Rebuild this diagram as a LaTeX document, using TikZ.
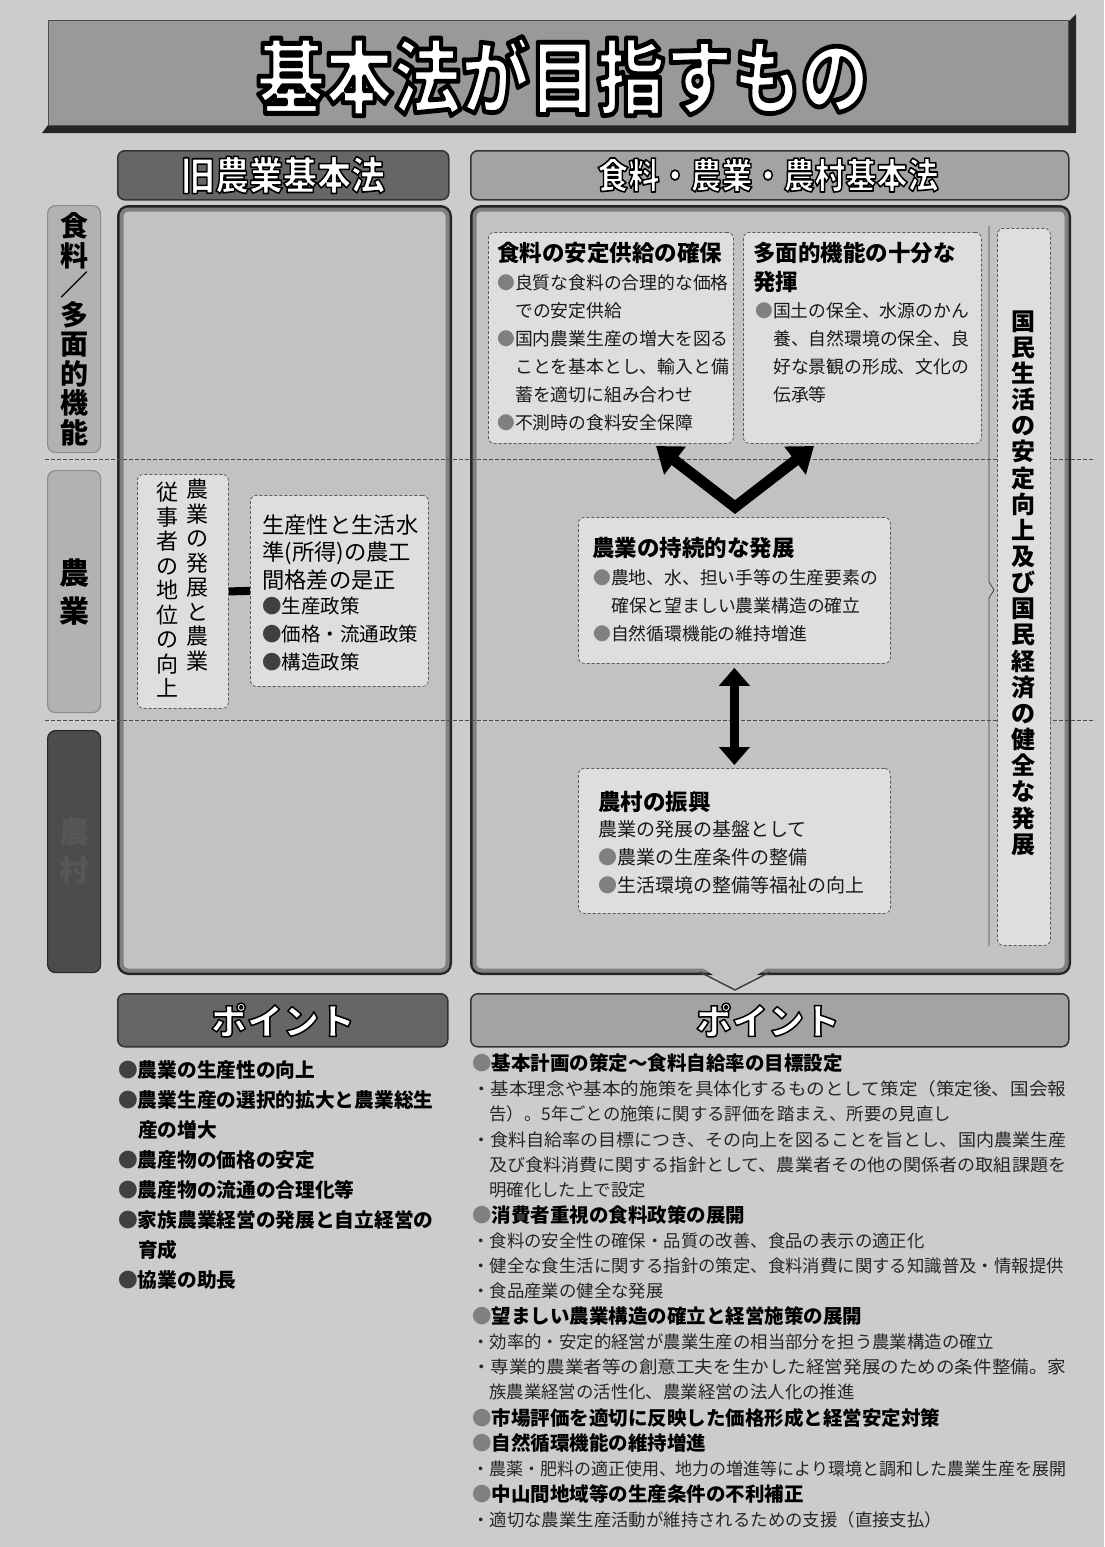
\documentclass[tikz,border=0pt]{standalone}
\usepackage{fontspec}
\setmainfont{Noto Sans CJK JP}
\usepackage{graphicx}
\usetikzlibrary{arrows.meta,calc}
\definecolor{bgc}{gray}{0.80}
\definecolor{panel}{gray}{0.76}
\definecolor{inboxc}{gray}{0.87}
\definecolor{tabdark}{gray}{0.40}
\definecolor{tablight}{gray}{0.64}
\definecolor{bannerc}{gray}{0.60}
\definecolor{labl}{gray}{0.70}
\definecolor{labd}{gray}{0.30}
\definecolor{bulc}{gray}{0.50}
\newcommand\fsz[1]{\fontsize{#1}{#1}\selectfont}
\newcommand\gbul{\textcolor{bulc}{●}}
\newcommand\dbul{\textcolor{black!75}{●}}
% white text with black outline (text render mode 2): #1 stroke width, #2 text
\newcommand\outl[2]{{\color{white}\special{pdf:literal direct 2 Tr #1 w 1 j 0 0 0 RG}#2\special{pdf:literal direct 0 Tr}}}
\begin{document}
\begin{tikzpicture}[x=1pt,y=-1pt,
  bigbox/.style={draw=black!85, line width=3pt, fill=panel, rounded corners=10pt, anchor=north west, inner sep=0pt},
  inbox/.style={draw=black!65, densely dashed, line width=0.8pt, fill=inboxc, rounded corners=6pt, anchor=north west, inner sep=0pt},
  labbox/.style={draw=black!45, line width=1.2pt, rounded corners=8pt, anchor=north west, inner sep=0pt},
  tabbox/.style={draw=black!80, line width=1.5pt, rounded corners=7pt, anchor=north west, inner sep=0pt},
  boxhead/.style={anchor=west, inner sep=0pt, font=\fsz{22.5}\bfseries},
  boxtxt/.style={anchor=west, inner sep=0pt, font=\fsz{17.8}, text=black!90},
  boxtxtD/.style={anchor=west, inner sep=0pt, font=\fsz{19}, text=black!90},
  oldhead/.style={anchor=west, inner sep=0pt, font=\fsz{22.3}},
  oldbul/.style={anchor=west, inner sep=0pt, font=\fsz{19.5}},
  pthead/.style={anchor=west, inner sep=0pt, font=\fsz{19.5}\bfseries},
  ptsub/.style={anchor=west, inner sep=0pt, font=\fsz{17.4}, text=black!85},
  ptleft/.style={anchor=west, inner sep=0pt, font=\fsz{19.7}\bfseries},
  fatarrow/.style={line width=11pt, line join=miter, {Triangle[length=24pt,width=34pt]}-{Triangle[length=24pt,width=34pt]}},
  dblarrow/.style={line width=9pt, {Triangle[length=18pt,width=30pt]}-{Triangle[length=18pt,width=30pt]}},
  hline/.style={black!70, line width=0.8pt, dash pattern=on 4pt off 2pt}
]
\useasboundingbox (0,0) rectangle (1104,1547);
\fill[bgc] (0,0) rectangle (1104,1547);

% ---------- title banner ----------
\fill[black!85] (42,133) -- (48,125) -- (1068,125) -- (1068,22) -- (1076,14) -- (1076,133) -- cycle;
\node[fill=bannerc, draw=black!70, line width=1pt, minimum width=1020, minimum height=105, anchor=north west, inner sep=0pt] (banner) at (48,20) {};
\node[inner sep=0pt, font=\fsz{68}\bfseries] (title) at (563,76) {\scalebox{1}[1.2]{\outl{4}{基本法が目指すもの}}};

% ---------- header tabs ----------
\node[tabbox, fill=tabdark, minimum width=331, minimum height=49] (tab1) at (117,150) {};
\node[tabbox, fill=tablight, minimum width=598, minimum height=49] (tab2) at (470,150) {};
\node[inner sep=0pt, font=\fsz{34}\bfseries] (tab1t) at (283,175) {\scalebox{1}[1.15]{\outl{1.4}{旧農業基本法}}};
\node[inner sep=0pt, font=\fsz{31}\bfseries] (tab2t) at (768,175) {\scalebox{1}[1.15]{\outl{1.4}{食料・農業・農村基本法}}};

% ---------- row labels ----------
\node[labbox, fill=labl, minimum width=53, minimum height=247] (lab1) at (47,205) {};
\node[labbox, fill=labl, minimum width=53, minimum height=242] (lab2) at (47,470) {};
\node[labbox, fill=labd, draw=black!85, minimum width=53, minimum height=242] (lab3) at (47,730) {};
\node[inner sep=0pt, align=center, font=\fontsize{28}{29.5}\selectfont\bfseries] (lab1t) at (lab1.center) {食\\料\\／\\多\\面\\的\\機\\能};
\node[inner sep=0pt, align=center, font=\fontsize{30}{38}\selectfont\bfseries] (lab2t) at (lab2.center) {農\\業};
\node[inner sep=0pt, align=center, font=\fontsize{30}{38}\selectfont\bfseries, text=black!66] (lab3t) at (lab3.center) {農\\村};

% ---------- big boxes ----------
\node[bigbox, minimum width=332, minimum height=767] (oldbox) at (117,205) {};
\node[bigbox, minimum width=598, minimum height=767] (newbox) at (470,205) {};
\draw[black!50, line width=4pt, rounded corners=7pt] ([shift={(4.5,4.5)}]oldbox.north west) rectangle ([shift={(-4.5,-4.5)}]oldbox.south east);
\draw[black!50, line width=4pt, rounded corners=7pt] ([shift={(4.5,4.5)}]newbox.north west) rectangle ([shift={(-4.5,-4.5)}]newbox.south east);
% notch below the new-law box
\fill[panel] (700,966) -- (770,966) -- (735,990) -- cycle;
\draw[black!75, line width=1.5pt] (700,972) -- (735,990) -- (770,972);

% ---------- row separators ----------
\draw[hline] (45,459) -- (1095,459);
\draw[hline] (45,720) -- (1095,720);

% ---------- old law contents ----------
\node[inbox, minimum width=91, minimum height=234] (oldv) at (137,474) {};
\node[inbox, minimum width=178, minimum height=191] (oldt) at (250,495) {};
\node[inner sep=0pt, align=center, font=\fontsize{22}{24.5}\selectfont] (oldvr) at (197,575) {農\\業\\の\\発\\展\\と\\農\\業};
\node[inner sep=0pt, align=center, font=\fontsize{22}{24.5}\selectfont] (oldvl) at (167,590) {従\\事\\者\\の\\地\\位\\の\\向\\上};
\draw[line width=8pt] (oldv.east) -- (oldt.west);
\node[oldhead] (o1) at (262,525) {生産性と生活水};
\node[oldhead] (o2) at (262,553) {準(所得)の農工};
\node[oldhead] (o3) at (262,580) {間格差の是正};
\node[oldbul] (o4) at (262,606) {\dbul 生産政策};
\node[oldbul] (o5) at (262,634) {\dbul 価格・流通政策};
\node[oldbul] (o6) at (262,662) {\dbul 構造政策};

% ---------- new law contents ----------
\node[inbox, minimum width=245, minimum height=211] (boxA) at (488,232) {};
\node[inbox, minimum width=238, minimum height=211] (boxB) at (743,232) {};
\node[inbox, minimum width=312, minimum height=146] (boxC) at (578,517) {};
\node[inbox, minimum width=312, minimum height=145] (boxD) at (578,768) {};
\node[inbox, minimum width=53, minimum height=717] (vbox) at (997,228) {};
\draw[black!75, line width=0.8pt] (989,226) -- (989,582) -- (994,590) -- (989,598) -- (989,946);
\node[inner sep=0pt, align=center, font=\fontsize{24}{26.15}\selectfont\bfseries] (vtext) at (1023,583) {国\\民\\生\\活\\の\\安\\定\\向\\上\\及\\び\\国\\民\\経\\済\\の\\健\\全\\な\\発\\展};

\node[boxhead] (a0) at (497,253) {食料の安定供給の確保};
\node[boxtxt] (a1) at (497,283) {\gbul 良質な食料の合理的な価格};
\node[boxtxt] (a2) at (515,311) {での安定供給};
\node[boxtxt] (a3) at (497,339) {\gbul 国内農業生産の増大を図る};
\node[boxtxt] (a4) at (515,367) {ことを基本とし、輸入と備};
\node[boxtxt] (a5) at (515,395) {蓄を適切に組み合わせ};
\node[boxtxt] (a6) at (497,423) {\gbul 不測時の食料安全保障};

\node[boxhead] (b0) at (753,253) {多面的機能の十分な};
\node[boxhead] (b1) at (753,282) {発揮};
\node[boxtxt] (b2) at (755,311) {\gbul 国土の保全、水源のかん};
\node[boxtxt] (b3) at (773,339) {養、自然環境の保全、良};
\node[boxtxt] (b4) at (773,367) {好な景観の形成、文化の};
\node[boxtxt] (b5) at (773,395) {伝承等};

\node[boxhead] (c0) at (592,548) {農業の持続的な発展};
\node[boxtxt] (c1) at (593,578) {\gbul 農地、水、担い手等の生産要素の};
\node[boxtxt] (c2) at (611,606) {確保と望ましい農業構造の確立};
\node[boxtxt] (c3) at (593,634) {\gbul 自然循環機能の維持増進};

\node[boxhead] (d0) at (598,802) {農村の振興};
\node[boxtxtD] (d1) at (598,829) {農業の発展の基盤として};
\node[boxtxtD] (d2) at (598,857) {\gbul 農業の生産条件の整備};
\node[boxtxtD] (d3) at (598,885) {\gbul 生活環境の整備等福祉の向上};

% arrows
\coordinate (vb) at (735,507);
\coordinate (tipl) at (656,446);
\coordinate (tipr) at (814,446);
\draw[fatarrow] (tipl) -- (vb) -- (tipr);
\draw[dblarrow, shorten <=4pt, shorten >=3pt] (boxC.south) -- (boxD.north);

% ---------- point tabs ----------
\node[tabbox, fill=tabdark, minimum width=330, minimum height=53] (pt1) at (117,993) {};
\node[tabbox, fill=tablight, minimum width=598, minimum height=53] (pt2) at (470,993) {};
\node[inner sep=0pt, font=\fsz{36}\bfseries] (pt1t) at (283,1020) {\outl{1.5}{ポイント}};
\node[inner sep=0pt, font=\fsz{36}\bfseries] (pt2t) at (768,1020) {\outl{1.5}{ポイント}};

% ---------- left points ----------
\node[ptleft] (l1) at (118,1070) {\dbul 農業の生産性の向上};
\node[ptleft] (l2) at (118,1100) {\dbul 農業生産の選択的拡大と農業総生};
\node[ptleft] (l3) at (138,1130) {産の増大};
\node[ptleft] (l4) at (118,1160) {\dbul 農産物の価格の安定};
\node[ptleft] (l5) at (118,1190) {\dbul 農産物の流通の合理化等};
\node[ptleft] (l6) at (118,1220) {\dbul 家族農業経営の発展と自立経営の};
\node[ptleft] (l7) at (138,1250) {育成};
\node[ptleft] (l8) at (118,1280) {\dbul 協業の助長};

% ---------- right points ----------
\node[pthead] (p1) at (472,1063) {\gbul 基本計画の策定～食料自給率の目標設定};
\node[ptsub] (p2) at (472,1089) {\resizebox{594pt}{\height}{・基本理念や基本的施策を具体化するものとして策定（策定後、国会報}};
\node[ptsub] (p3) at (489,1114) {告）。5年ごとの施策に関する評価を踏まえ、所要の見直し};
\node[ptsub] (p4) at (472,1140) {\resizebox{594pt}{\height}{・食料自給率の目標につき、その向上を図ることを旨とし、国内農業生産}};
\node[ptsub] (p5) at (489,1165) {\resizebox{577pt}{\height}{及び食料消費に関する指針として、農業者その他の関係者の取組課題を}};
\node[ptsub] (p6) at (489,1190) {明確化した上で設定};
\node[pthead] (p7) at (472,1215) {\gbul 消費者重視の食料政策の展開};
\node[ptsub] (p8) at (472,1241) {・食料の安全性の確保・品質の改善、食品の表示の適正化};
\node[ptsub] (p9) at (472,1266) {・健全な食生活に関する指針の策定、食料消費に関する知識普及・情報提供};
\node[ptsub] (p10) at (472,1291) {・食品産業の健全な発展};
\node[pthead] (p11) at (472,1316) {\gbul 望ましい農業構造の確立と経営施策の展開};
\node[ptsub] (p12) at (472,1342) {・効率的・安定的経営が農業生産の相当部分を担う農業構造の確立};
\node[ptsub] (p13) at (472,1367) {\resizebox{594pt}{\height}{・専業的農業者等の創意工夫を生かした経営発展のための条件整備。家}};
\node[ptsub] (p14) at (489,1392) {族農業経営の活性化、農業経営の法人化の推進};
\node[pthead] (p15) at (472,1418) {\gbul 市場評価を適切に反映した価格形成と経営安定対策};
\node[pthead] (p16) at (472,1443) {\gbul 自然循環機能の維持増進};
\node[ptsub] (p17) at (472,1469) {\resizebox{594pt}{\height}{・農薬・肥料の適正使用、地力の増進等により環境と調和した農業生産を展開}};
\node[pthead] (p18) at (472,1494) {\gbul 中山間地域等の生産条件の不利補正};
\node[ptsub] (p19) at (472,1520) {・適切な農業生産活動が維持されるための支援（直接支払）};
\end{tikzpicture}
\end{document}
